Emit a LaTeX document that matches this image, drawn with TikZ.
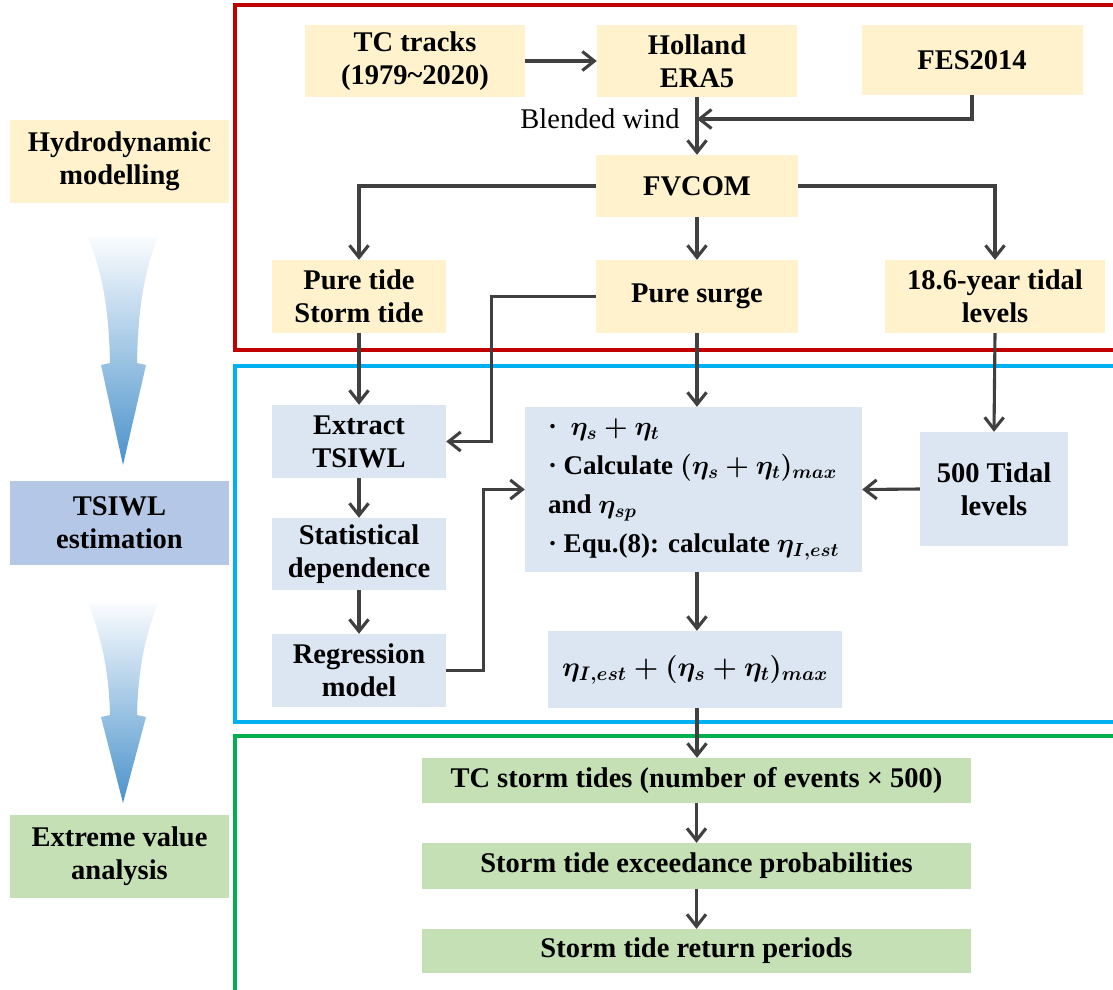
\RequirePackage{fix-cm}
\documentclass[tikz,border=0pt]{standalone}
\usepackage{amsmath}
\usepackage{fontspec}
\setmainfont{Liberation Serif}
\usetikzlibrary{arrows.meta}
\definecolor{yel}{HTML}{FFF2CC}
\definecolor{blu}{HTML}{DCE6F2}
\definecolor{grn}{HTML}{C5E0B4}
\definecolor{tsi}{HTML}{B4C7E7}
\definecolor{lc}{HTML}{404040}
\definecolor{fred}{HTML}{C00000}
\definecolor{fblue}{HTML}{00B0F0}
\definecolor{fgreen}{HTML}{00B050}
\definecolor{gtop}{HTML}{FAFCFE}
\definecolor{gbot}{HTML}{4A92CB}
\newcommand\gradarr[3]{%
  \shade[top color=gtop, bottom color=gbot]
    (88,#1) .. controls (100,{#1+30}) and (109,{#1+65}) .. (110,#2)
    -- (101,{#2+2}) -- (123,#3) -- (146,{#2+2}) -- (137,#2)
    .. controls (138,{#1+65}) and (146,{#1+30}) .. (158,#1) -- cycle;}
\newcommand\bm[1]{\boldsymbol{#1}}
\begin{document}
\begin{tikzpicture}[x=1pt,y=-1pt,
  box/.style={inner sep=0pt, align=center, font=\bfseries\fontsize{28.5}{33}\selectfont},
  ybox/.style={box, fill=yel},
  bbox/.style={box, fill=blu},
  gbox/.style={box, fill=grn},
  conn/.style={draw=lc, line width=3.1pt, -{Straight Barb[length=12pt,width=19pt]}},
  frame/.style={line width=3.2pt}]
\useasboundingbox (0,0) rectangle (1113,989);
\fill[white] (0,0) rectangle (1113,989);
% frames
\draw[frame, fred] (1120,5) -- (235,5) -- (235,350) -- (1120,350);
\draw[frame, fblue] (1120,366) -- (235,366) -- (235,722) -- (1120,722);
\draw[frame, fgreen] (1120,736) -- (235,736) -- (235,995);
% left column
\node[ybox, minimum width=219pt, minimum height=83pt] (hydro) at (119.5,161.5) {Hydrodynamic\\modelling};
\node[box, fill=tsi, minimum width=219pt, minimum height=84pt] (tsiwl) at (119.5,523) {TSIWL\\estimation};
\node[gbox, minimum width=219pt, minimum height=83pt] (eva) at (119.5,856.5) {Extreme value\\analysis};
\gradarr{237}{363}{465}
\gradarr{603}{715}{803}
% top section
\node[ybox, minimum width=220pt, minimum height=72pt] (tc) at (415,61) {TC tracks\\(1979\textasciitilde2020)};
\node[ybox, minimum width=200pt, minimum height=72pt] (hol) at (697,61) {Holland\\ERA5};
\node[ybox, minimum width=221pt, minimum height=70pt] (fes) at (972,60) {FES2014};
\node[ybox, minimum width=202pt, minimum height=62pt] (fv) at (697,186) {FVCOM};
\node[ybox, minimum width=174pt, minimum height=73pt] (pt) at (359,296.5) {Pure tide\\Storm tide};
\node[ybox, minimum width=202pt, minimum height=73pt] (ps) at (697,296.5) {Pure surge};
\node[ybox, minimum width=220pt, minimum height=73pt] (tl) at (995,296.5) {18.6-year tidal\\levels};
\coordinate (bw) at (697,119);
\node[inner sep=0pt, font=\fontsize{28.5}{32}\selectfont] (bwl) at (600,119) {Blended wind};
% middle section
\node[bbox, minimum width=174pt, minimum height=73pt] (ex) at (359,441.5) {Extract\\TSIWL};
\node[bbox, minimum width=174pt, minimum height=72pt] (sd) at (359,554) {Statistical\\dependence};
\node[bbox, minimum width=174pt, minimum height=73pt] (reg) at (359,670.5) {Regression\\model};
\node[bbox, align=left, minimum width=337pt, minimum height=165pt, font=\bfseries\fontsize{27}{39}\selectfont] (math) at (693.5,489.5)
  {·\enspace $\bm{\eta_s+\eta_t}$\\
   · Calculate $\bm{(\eta_s+\eta_t)_{max}}$\\
   and $\bm{\eta_{sp}}$\\
   · Equ.(8): calculate $\bm{\eta_{I,est}}$};
\node[bbox, minimum width=148pt, minimum height=114pt] (t500) at (994,489) {500 Tidal\\levels};
\node[bbox, minimum width=294pt, minimum height=77pt, font=\bfseries\fontsize{28}{33}\selectfont] (res) at (695,669.5) {$\bm{\eta_{I,est}+(\eta_s+\eta_t)_{max}}$};
% bottom section
\node[gbox, minimum width=549pt, minimum height=45pt] (s1) at (696.5,780.5) {TC storm tides (number of events × 500)};
\node[gbox, minimum width=549pt, minimum height=46pt] (s2) at (696.5,866) {Storm tide exceedance probabilities};
\node[gbox, minimum width=549pt, minimum height=44pt] (s3) at (696.5,951) {Storm tide return periods};
% connectors
\draw[conn] (tc.east) -- (hol.west);
\draw[conn] (hol.south) -- (fv.north);
\draw[conn] (fes.south) |- (bw);
\draw[conn] (fv.west) -| (pt.north);
\draw[conn] (fv.south) -- (ps.north);
\draw[conn] (fv.east) -| (tl.north);
\draw[conn] (ps.west) -- ++(-104,0) |- (ex.east);
\draw[conn] (pt.south) -- (ex.north);
\draw[conn] (ps.south) -- (ps.south |- math.north);
\draw[conn] (tl.south) -- (t500.north);
\draw[conn] (ex.south) -- (sd.north);
\draw[conn] (sd.south) -- (reg.north);
\draw[conn] (reg.east) -- ++(37,0) |- (math.west);
\draw[conn] (t500.west) -- (math.east);
\draw[conn] (ps.south |- math.south) -- (ps.south |- res.north);
\draw[conn] (ps.south |- res.south) -- (ps.south |- s1.north);
\draw[conn] (s1.south) -- (s2.north);
\draw[conn] (s2.south) -- (s3.north);
\end{tikzpicture}
\end{document}
